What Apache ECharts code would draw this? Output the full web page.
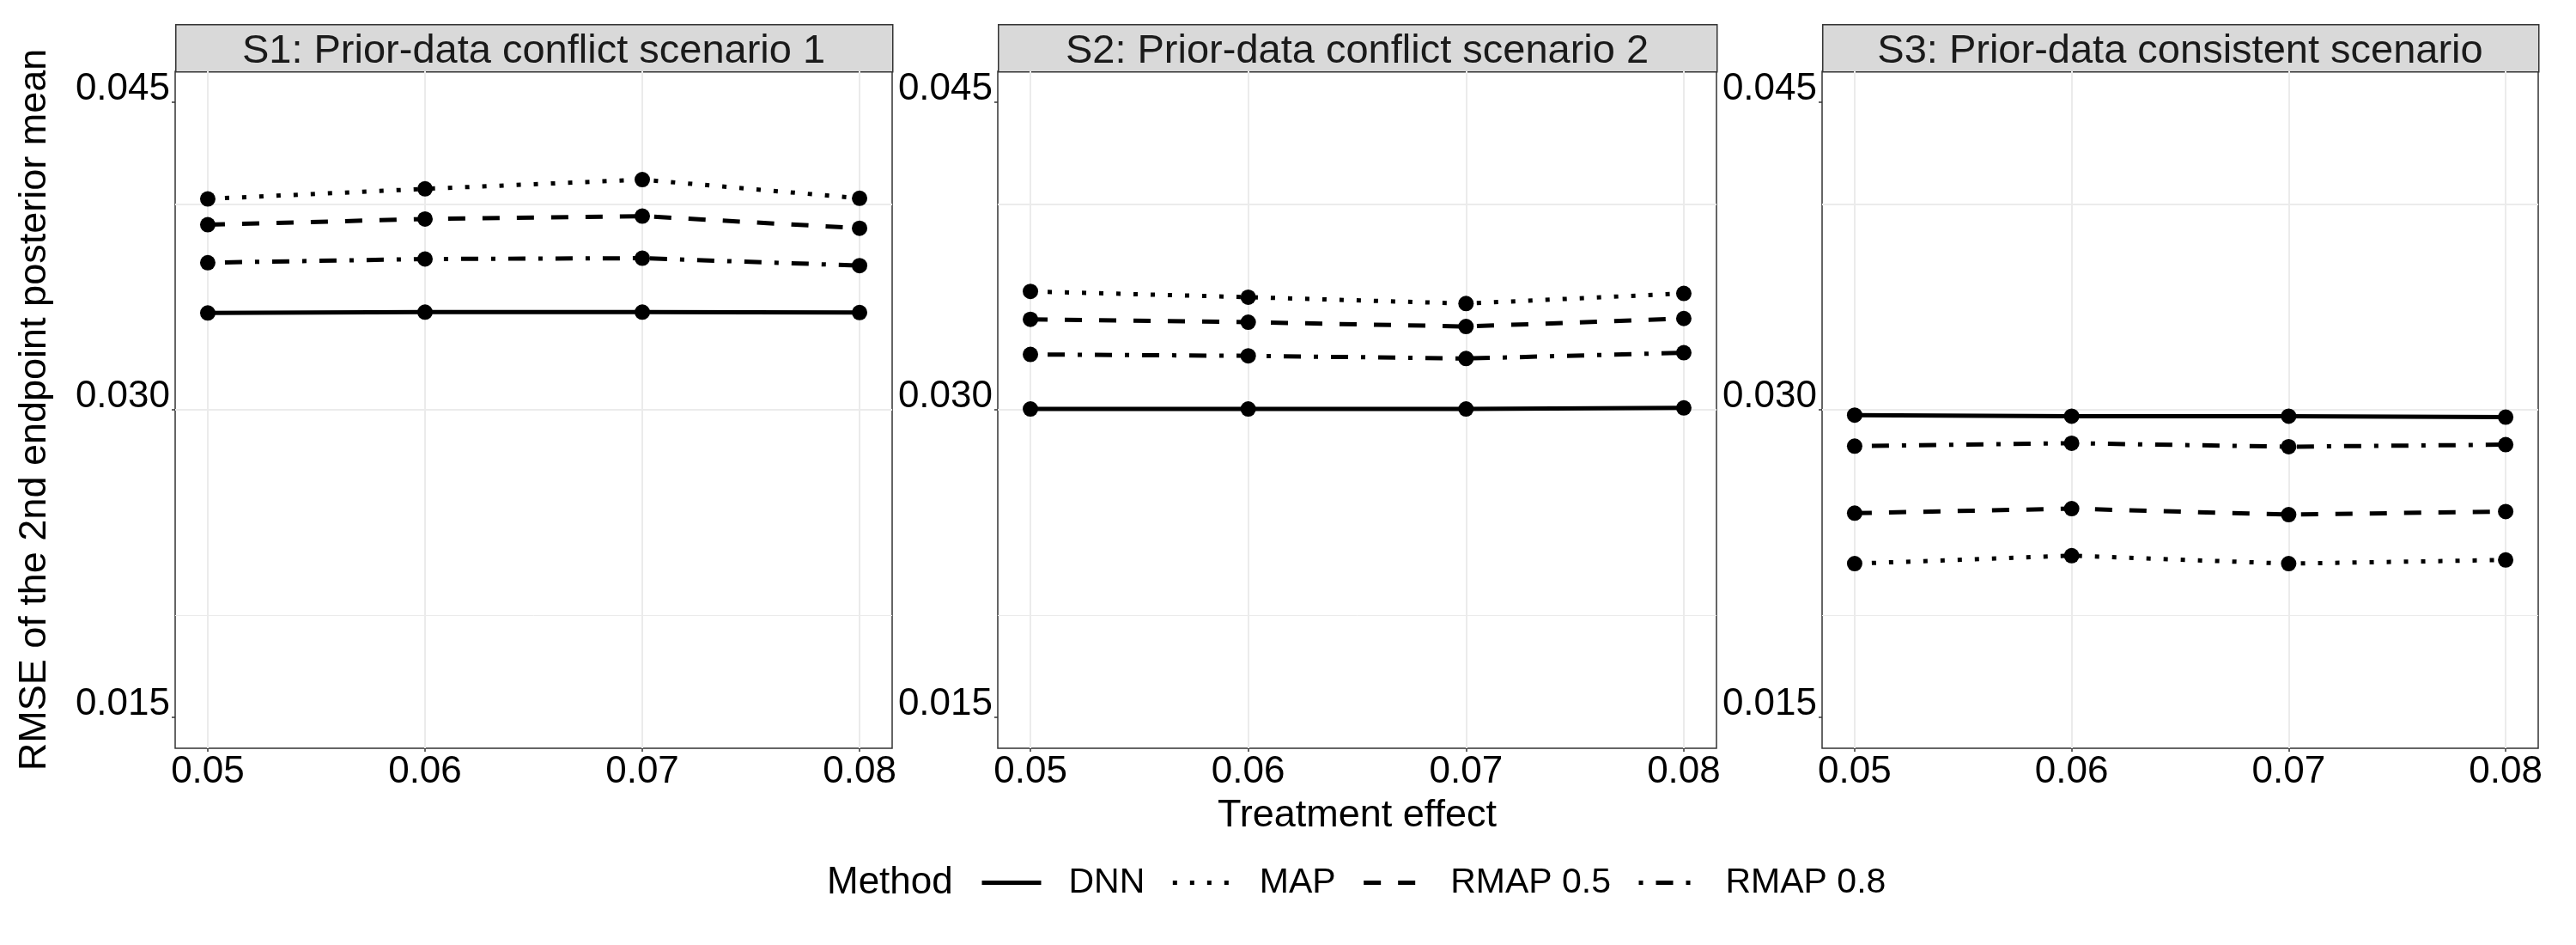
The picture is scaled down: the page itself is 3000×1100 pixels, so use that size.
<!DOCTYPE html>
<html>
<head>
<meta charset="utf-8">
<script src="https://cdn.jsdelivr.net/npm/echarts@6/dist/echarts.min.js"></script>
<style>
  html, body { margin: 0; padding: 0; background: #fff; }
  #box { width: 3000px; height: 1100px; }
</style>
</head>
<body>
<div id="box"></div>
<script>
// data
const treatment = [0.05, 0.06, 0.07, 0.08];
const scenarios = ['S1: Prior-data conflict scenario 1', 'S2: Prior-data conflict scenario 2', 'S3: Prior-data consistent scenario'];
const methods = ['DNN', 'MAP', 'RMAP 0.5', 'RMAP 0.8'];
// one row per scenario (S1, S2, S3)
const dnnRmse = [
  [0.03472, 0.03476, 0.03476, 0.03474],
  [0.03004, 0.03004, 0.03004, 0.03009],
  [0.02974, 0.02969, 0.02969, 0.02964]
];
const mapRmse = [
  [0.04028, 0.04077, 0.04122, 0.04031],
  [0.03577, 0.03549, 0.03518, 0.03567],
  [0.02250, 0.02289, 0.02250, 0.02268]
];
const rmap05Rmse = [
  [0.03902, 0.03930, 0.03944, 0.03885],
  [0.03441, 0.03427, 0.03406, 0.03445],
  [0.02496, 0.02518, 0.02489, 0.02504]
];
const rmap08Rmse = [
  [0.03717, 0.03735, 0.03739, 0.03703],
  [0.03270, 0.03263, 0.03250, 0.03278],
  [0.02823, 0.02837, 0.02820, 0.02830]
];
const yTicks = [0.015, 0.030, 0.045];
const yMinor = [0.0225, 0.0375];
const xMinor = [0.055, 0.065, 0.075];

const FONT = "'Liberation Sans', Arial, sans-serif";
const panelLeft = [204, 1162, 2122];
const panelWidth = [835, 837, 834];
const panelTop = 83;
const panelHeight = 788;
const stripHeight = 55;

const methodData = [dnnRmse, mapRmse, rmap05Rmse, rmap08Rmse];
const dashes = ['solid', [5, 15], [20, 20], [5, 15, 20, 15]];

const myChart = echarts.init(document.getElementById('box'), null, { renderer: 'canvas' });

const grids = [], xAxes = [], yAxes = [], series = [], graphics = [];

for (let p = 0; p < 3; p++) {
  grids.push({
    left: panelLeft[p], top: panelTop, width: panelWidth[p], height: panelHeight,
    show: true, borderColor: '#333333', borderWidth: 1.5, backgroundColor: '#fff'
  });
  xAxes.push({
    type: 'value', gridIndex: p, min: 0.0485, max: 0.0815,
    axisLine: { show: false },
    splitLine: { show: false },
    axisTick: { show: true, customValues: treatment, length: 4, lineStyle: { color: '#333', width: 1.5 } },
    axisLabel: {
      customValues: treatment, margin: 13, lineHeight: 30,
      color: '#000', fontSize: 44, fontFamily: FONT,
      formatter: v => v.toFixed(2)
    }
  });
  yAxes.push({
    type: 'value', gridIndex: p, min: 0.0135, max: 0.0465,
    axisLine: { show: false },
    splitLine: { show: false },
    axisTick: { show: true, customValues: yTicks, length: 4, lineStyle: { color: '#333', width: 1.5 } },
    axisLabel: {
      customValues: yTicks, margin: 6, lineHeight: 30, verticalAlign: 'bottom',
      color: '#000', fontSize: 44, fontFamily: FONT,
      formatter: v => v.toFixed(3)
    }
  });

  // grid lines, drawn through the axes
  const gridLines = [];
  yTicks.forEach(v => gridLines.push({ yAxis: v, lineStyle: { width: 2 } }));
  yMinor.forEach(v => gridLines.push({ yAxis: v, lineStyle: { width: 1 } }));
  treatment.forEach(v => gridLines.push({ xAxis: v, lineStyle: { width: 2 } }));
  xMinor.forEach(v => gridLines.push({ xAxis: v, lineStyle: { width: 1 } }));

  methods.forEach((m, k) => {
    const s = {
      name: m, type: 'line', xAxisIndex: p, yAxisIndex: p,
      data: treatment.map((t, i) => [t, methodData[k][p][i]]),
      symbol: 'circle', symbolSize: 18,
      itemStyle: { color: '#000' },
      lineStyle: { color: '#000', width: 5, type: dashes[k], cap: 'butt' },
      z: 3, animation: false
    };
    if (k === 0) {
      s.markLine = {
        silent: true, symbol: 'none', z: 1, animation: false,
        label: { show: false },
        lineStyle: { color: '#EBEBEB', type: 'solid' },
        emphasis: { disabled: true },
        data: gridLines
      };
    }
    series.push(s);
  });

  // facet strip
  graphics.push({
    type: 'rect', left: panelLeft[p], top: panelTop - stripHeight,
    shape: { width: panelWidth[p], height: stripHeight },
    style: { fill: '#D9D9D9', stroke: '#333333', lineWidth: 1.5 }
  });
  graphics.push({
    type: 'text', x: panelLeft[p] + panelWidth[p] / 2, y: 60,
    style: { text: scenarios[p], fill: '#1A1A1A', font: '47px ' + FONT, textAlign: 'center', textVerticalAlign: 'middle' }
  });
}

// axis titles and legend title
graphics.push({
  type: 'text', x: 41, y: panelTop + panelHeight / 2, rotation: Math.PI / 2,
  style: { text: 'RMSE of the 2nd endpoint posterior mean', fill: '#000', font: '45px ' + FONT, textAlign: 'center', textVerticalAlign: 'middle' }
});
graphics.push({
  type: 'text', x: panelLeft[1] + panelWidth[1] / 2, y: 950,
  style: { text: 'Treatment effect', fill: '#000', font: '45px ' + FONT, textAlign: 'center', textVerticalAlign: 'middle' }
});
graphics.push({
  type: 'text', x: 963, y: 1028,
  style: { text: 'Method', fill: '#000', font: '44px ' + FONT, textAlign: 'left', textVerticalAlign: 'middle' }
});

const option = {
  backgroundColor: '#fff',
  animation: false,
  grid: grids,
  xAxis: xAxes,
  yAxis: yAxes,
  legend: {
    left: 1136, top: 1002, orient: 'horizontal',
    itemWidth: 69, itemHeight: 20, itemGap: 30,
    selectedMode: false,
    itemStyle: { color: 'rgba(0,0,0,0)', borderWidth: 0 },
    textStyle: { color: '#000', fontSize: 41, fontFamily: FONT, padding: [0, 0, 0, 27] },
    data: methods.map((m, k) => ({
      name: m,
      lineStyle: { color: '#000', width: 5, type: dashes[k], cap: 'butt' }
    }))
  },
  graphic: graphics,
  series: series
};

myChart.setOption(option);
</script>
</body>
</html>
